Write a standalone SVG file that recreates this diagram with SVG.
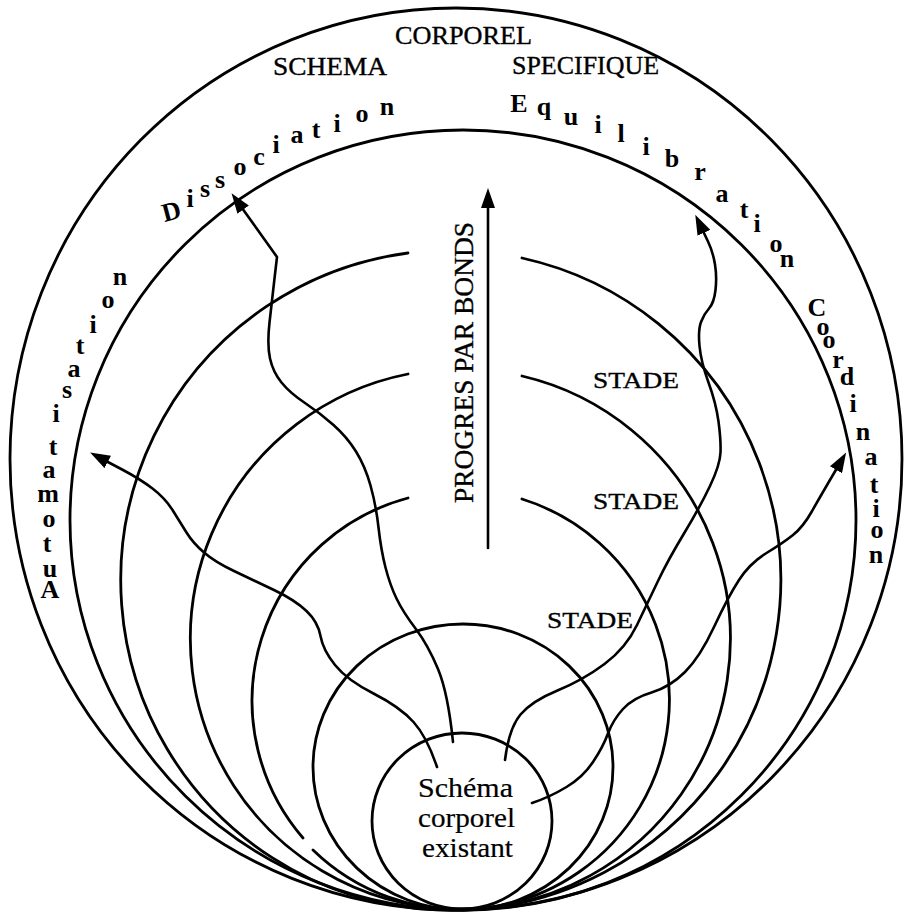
<svg xmlns="http://www.w3.org/2000/svg" width="907" height="913" viewBox="0 0 907 913">
<defs>
<style>
.ln{fill:none;stroke:#000;stroke-width:2.8;stroke-linecap:round}
.cn{fill:none;stroke:#000;stroke-width:2.6;stroke-linecap:round;stroke-linejoin:round}
.t{font-family:"Liberation Serif","DejaVu Serif",serif;fill:#000;stroke:#000;stroke-width:0.35}
.cap{font-size:25px}
.arc{font-size:26px;font-weight:bold;stroke-width:0}
.inner{font-size:28px;stroke-width:0.2}
</style>
<marker id="head" viewBox="0 0 20 14" refX="2" refY="7" markerWidth="20" markerHeight="14" markerUnits="userSpaceOnUse" orient="auto">
<path d="M0,0 L20,7 L0,14 z" fill="#000"/>
</marker>
</defs>
<rect width="907" height="913" fill="#fff"/>

<g id="outer-ring">
<ellipse class="ln" cx="456" cy="459" rx="446" ry="451"/>
<text class="t cap" x="463.5" y="44" text-anchor="middle" textLength="137" lengthAdjust="spacingAndGlyphs">CORPOREL</text>
<text class="t cap" x="330" y="75" text-anchor="middle" textLength="114" lengthAdjust="spacingAndGlyphs">SCHEMA</text>
<text class="t cap" x="585.5" y="74" text-anchor="middle" textLength="147" lengthAdjust="spacingAndGlyphs">SPECIFIQUE</text>
</g>

<g id="inner-ring">
<ellipse class="ln" cx="463" cy="520" rx="393" ry="390"/>
<text class="t arc" text-anchor="middle" x="174 190 205 220 240 259 276 297 316 337 362 387" y="222 207 197 188 175 165 153 143 138 132 122 115" rotate="-15 0 0 0 0 0 0 0 0 0 0 0">Dissociation</text>
<text class="t arc" text-anchor="middle" x="519 544 571 598 621 646 672 700 722 744 757 776 787" y="112 115 125 133 142 155 167 180 202 218 232 252 267">Equilibration</text>
<text class="t arc" text-anchor="middle" x="817 823 829 838 847 853 863 871 874 876 877 876" y="316 335 348 368 385 412 440 465 493 517 538 563">Coordination</text>
<text class="t arc" text-anchor="middle" x="50 50 47 49 48 49 53 56 67 74 80 93 108 120" y="598 577 552 527 502 478 455 422 398 377 354 333 308 285">Automatisation</text>
</g>

<g id="stade-1">
<path class="ln" d="M408,253 A330,330 0 1 0 522,258"/>
<text class="t" font-size="24" x="636" y="388" text-anchor="middle" textLength="86" lengthAdjust="spacingAndGlyphs">STADE</text>
</g>

<g id="stade-2">
<path class="ln" d="M408,374 A270,270 0 1 0 522,376"/>
<text class="t" font-size="24" x="636" y="509" text-anchor="middle" textLength="86" lengthAdjust="spacingAndGlyphs">STADE</text>
</g>

<g id="stade-3">
<path class="ln" d="M408,498 A210,210 0 0 0 303,838"/>
<path class="ln" d="M313,850 A210,210 0 1 0 522,499"/>
<text class="t" font-size="24" x="590" y="628" text-anchor="middle" textLength="86" lengthAdjust="spacingAndGlyphs">STADE</text>
</g>

<g id="middle-circle">
<ellipse class="ln" cx="463" cy="767" rx="150" ry="143"/>
</g>

<g id="existing-schema">
<ellipse class="ln" cx="462" cy="821" rx="90" ry="88"/>
<text class="t inner" x="465.5" y="797" text-anchor="middle" textLength="95" lengthAdjust="spacingAndGlyphs">Schéma</text>
<text class="t inner" x="466.5" y="827" text-anchor="middle" textLength="97" lengthAdjust="spacingAndGlyphs">corporel</text>
<text class="t inner" x="467.5" y="857" text-anchor="middle" textLength="91" lengthAdjust="spacingAndGlyphs">existant</text>
</g>

<g id="progress">
<text class="t" font-size="27" transform="translate(473,362.5) rotate(-90)" x="0" y="0" text-anchor="middle" textLength="281" lengthAdjust="spacingAndGlyphs">PROGRES PAR BONDS</text>
</g>

<g id="connectors">
<path class="cn" marker-end="url(#head)" d="M488,548 L488,206"/>
<path class="cn" marker-end="url(#head)" d="M437,767 Q427,737 413.5,722 Q400,707 373.5,693.5 Q347,680 335,665 Q323,650 320.5,636 Q318,622 306.5,611 Q295,600 274,590 Q253,580 234,571 Q215,562 204,552.5 Q193,543 186.5,532.5 Q180,522 172.5,510 Q165,498 152.5,488.5 Q140,479 123,470 L106,461"/>
<path class="cn" marker-end="url(#head)" d="M453,742 Q448,693 438,669 Q428,645 415.5,628.5 Q403,612 396.5,598.5 Q390,585 385.5,567.5 Q381,550 378.5,527.5 Q376,505 370.5,485.5 Q365,466 356,451.5 Q347,437 333.5,425 Q320,413 305,403 Q290,393 281.5,382.5 Q273,372 270,358.5 Q267,345 269.5,322.5 Q272,300 274.5,278.5 L277,257 L242,208"/>
<path class="cn" marker-end="url(#head)" d="M505,760 Q509,728 520.5,714.5 Q532,701 557.5,690.5 Q583,680 604.5,664 Q626,648 637,625 Q648,602 658,581 Q668,560 684,533.5 Q700,507 710,486 Q720,465 720.5,452.5 Q721,440 718.5,421.5 Q716,403 708.5,382.5 Q701,362 699.5,346 Q698,330 701,322 Q704,314 709,308.5 Q714,303 715.5,290 Q717,277 715,264.5 Q713,252 708,241.5 L703,231"/>
<path class="cn" marker-end="url(#head)" d="M532,803 Q550,797 566.5,787 Q583,777 593,762 Q603,747 608,733.5 Q613,720 623,709 Q633,698 651.5,692.5 Q670,687 685,672 Q700,657 714,627 Q728,597 739,580 Q750,563 766.5,553 Q783,543 793,535 Q803,527 811.5,512 Q820,497 828.5,482.5 L837,468"/>
</g>
</svg>
